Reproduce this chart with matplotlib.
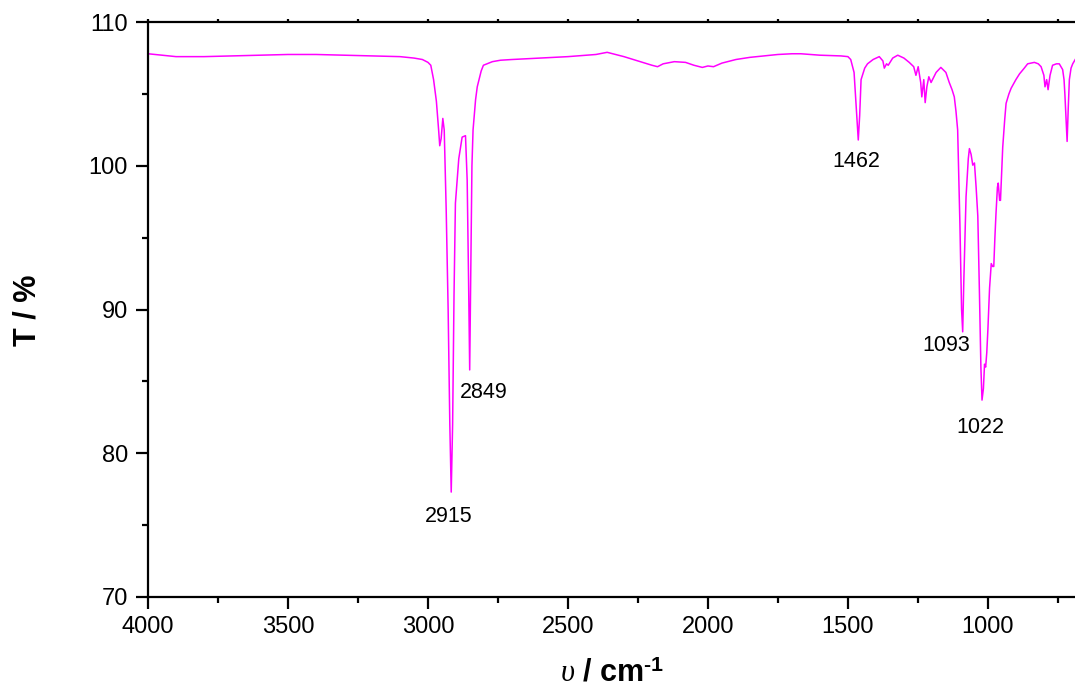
import numpy as np
import matplotlib; matplotlib.use('Agg')
import matplotlib.pyplot as plt
from matplotlib.ticker import MultipleLocator

plt.rcParams['font.family'] = ['Liberation Sans', 'DejaVu Sans']
plt.rcParams['mathtext.fontset'] = 'custom'
plt.rcParams['mathtext.rm'] = 'Liberation Sans:bold'
plt.rcParams['mathtext.bf'] = 'Liberation Sans:bold'
plt.rcParams['mathtext.it'] = 'Liberation Serif:italic'

# IR spectrum (wavenumber / cm-1, transmittance / %)
wavenumber = [
    4000, 3950, 3900, 3850, 3800, 3700, 3600, 3500, 3400, 3300, 3200, 3100,
    3050, 3020, 3000, 2990, 2980, 2970, 2962, 2958, 2953, 2947, 2942, 2935,
    2928, 2922, 2917, 2912, 2907, 2902, 2890, 2878, 2866, 2860, 2855, 2851,
    2847, 2843, 2839, 2830, 2824, 2810, 2802, 2770, 2741, 2700, 2600, 2500,
    2400, 2360, 2330, 2300, 2250, 2200, 2180, 2160, 2120, 2080, 2050, 2020,
    2000, 1980, 1950, 1900, 1850, 1800, 1750, 1700, 1668, 1600, 1525, 1500,
    1490, 1478, 1470, 1463, 1458, 1453, 1440, 1430, 1410, 1388, 1375, 1370,
    1362, 1356, 1340, 1322, 1300, 1281, 1265, 1257, 1249, 1240, 1236, 1229,
    1224, 1218, 1211, 1203, 1185, 1168, 1150, 1138, 1128, 1120, 1114, 1108,
    1100, 1094, 1090, 1086, 1078, 1070, 1066, 1060, 1054, 1048, 1042, 1036,
    1030, 1025, 1021, 1016, 1012, 1008, 1004, 1000, 994, 988, 983, 979,
    975, 971, 966, 963, 958, 955, 951, 947, 940, 935, 925, 917,
    900, 887, 870, 858, 834, 820, 810, 800, 796, 790, 785, 778,
    769, 755, 745, 733, 728, 725, 720, 717, 713, 709, 703, 697, 685,
]
transmittance = [
    107.8, 107.7, 107.6, 107.6, 107.6, 107.65, 107.7, 107.75, 107.75, 107.7, 107.65, 107.6,
    107.5, 107.4, 107.2, 107.0, 106.0, 104.5, 102.5, 101.4, 101.9, 103.3, 102.5, 97.0,
    90.0, 82.0, 77.3, 82.0, 91.0, 97.4, 100.5, 102.0, 102.1, 99.0, 92.0, 85.8,
    93.0, 100.0, 102.5, 104.6, 105.5, 106.6, 107.0, 107.25, 107.35, 107.4, 107.5, 107.6,
    107.75, 107.9, 107.75, 107.6, 107.3, 107.0, 106.9, 107.1, 107.25, 107.2, 107.0, 106.85,
    106.95, 106.9, 107.15, 107.4, 107.55, 107.65, 107.75, 107.8, 107.8, 107.7, 107.65, 107.6,
    107.4, 106.5, 104.0, 101.8, 103.5, 106.0, 106.8, 107.1, 107.4, 107.6, 107.3, 106.8,
    107.1, 107.0, 107.5, 107.7, 107.5, 107.2, 106.9, 106.3, 106.9, 105.8, 104.8, 106.0,
    104.4, 105.5, 106.2, 105.8, 106.5, 106.85, 106.5, 105.8, 105.3, 104.8, 103.8, 102.5,
    96.0, 90.0, 88.45, 92.0, 97.85, 100.5, 101.2, 100.8, 100.05, 100.2, 98.5, 96.5,
    91.0, 86.0, 83.7, 84.5, 86.2, 86.0, 87.0, 88.6, 91.5, 93.2, 93.0, 93.0,
    95.0, 96.7, 98.5, 98.8, 97.6, 97.6, 99.5, 101.3, 103.2, 104.35, 105.0, 105.4,
    106.0, 106.4, 106.8, 107.1, 107.2, 107.1, 106.9, 106.3, 105.5, 106.0, 105.3, 106.3,
    107.0, 107.1, 107.1, 106.7, 106.0, 105.0, 103.0, 101.7, 104.0, 106.0, 106.8, 107.1, 107.5,
]

# peak labels and where they sit
peak_labels = ['2915', '2849', '1462', '1093', '1022']
label_x = [2925, 2802, 1471, 1150, 1028]
label_y = [75.6, 84.2, 100.3, 87.5, 81.8]

fig = plt.figure(figsize=(10.75, 6.92), dpi=100)
ax = fig.add_axes([0.1377, 0.1373, 0.8633, 0.8307])

ax.plot(wavenumber, transmittance, color='#FF00FF', lw=1.1)

for s, x, y in zip(peak_labels, label_x, label_y):
    ax.text(x, y, s, ha='center', va='center', fontsize=15.5)

ax.set_xlim(4000, 685)
ax.set_ylim(70, 110)
ax.xaxis.set_major_locator(MultipleLocator(500))
ax.xaxis.set_minor_locator(MultipleLocator(250))
ax.yaxis.set_major_locator(MultipleLocator(10))
ax.yaxis.set_minor_locator(MultipleLocator(5))

ax.tick_params(which='major', direction='out', length=8.5, width=1.6,
               labelsize=17)
ax.tick_params(axis='y', which='major', pad=6)
ax.tick_params(axis='x', which='major', pad=5)
ax.tick_params(which='minor', direction='out', length=4.5, width=1.6)
# tiny inward stubs on the top spine
ax.tick_params(axis='x', which='both', top=True, labeltop=False)
for t in ax.xaxis.get_major_ticks() + ax.xaxis.get_minor_ticks():
    t.tick2line.set_markersize(2)
for sp in ax.spines.values():
    sp.set_linewidth(1.6)
ax.spines['right'].set_visible(False)

ax.set_xlabel(r'$\upsilon$ / cm$^{\text{-}1}$', fontsize=22, fontweight='bold', labelpad=15)
fig.text(27 / 1075, 1 - 310 / 692, 'T / %', rotation=90, fontsize=22,
         fontweight='bold', ha='center', va='center')

fig.savefig('out.png', dpi=100)
plt.close(fig)
